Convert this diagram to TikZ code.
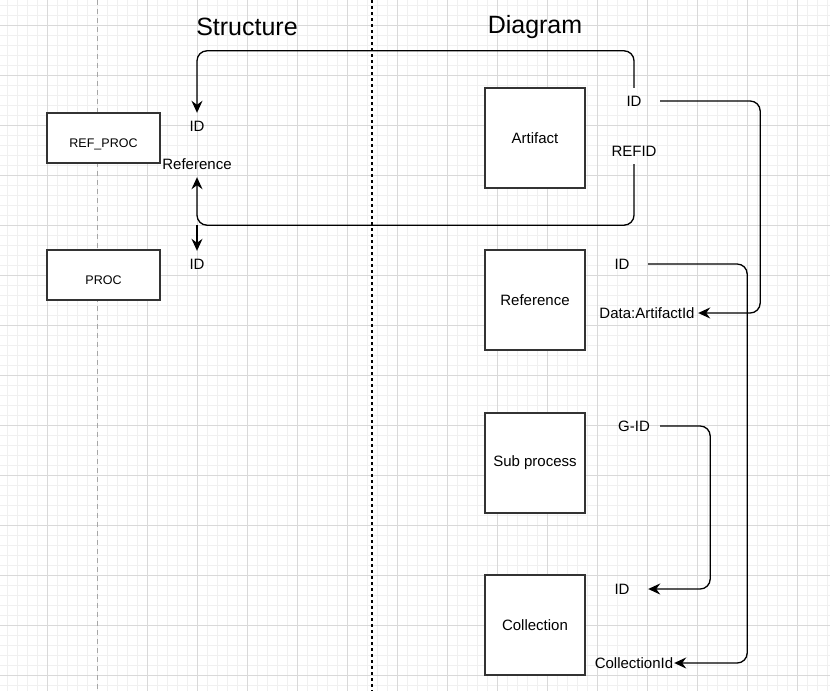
\documentclass[tikz,border=0pt]{standalone}
\usepackage{fontspec}
\setmainfont{Liberation Sans}
\usetikzlibrary{arrows.meta}
\definecolor{gridminor}{HTML}{F0F0F0}
\definecolor{gridmajor}{HTML}{D9D9D9}
\definecolor{boxline}{HTML}{333333}
\begin{document}
\begin{tikzpicture}[x=1pt,y=-1pt,
  box/.style={draw=boxline, line width=1.2pt, fill=white, minimum width=100pt, minimum height=100pt, inner sep=0pt, font=\fontsize{15}{18}\selectfont},
  smallbox/.style={box, minimum width=113pt, minimum height=50pt, font=\fontsize{12.5}{15}\selectfont, text height=19pt, text depth=0pt},
  lbl/.style={inner sep=0pt, minimum height=26pt, minimum width=52pt, font=\fontsize{15}{18}\selectfont},
  titletext/.style={inner sep=0pt, font=\fontsize{25}{30}\selectfont},
  tipstyle/.style={-{Stealth[length=12pt,width=11pt,inset=4pt]}},
  conn/.style={draw=black, line width=1.3pt, rounded corners=10pt, tipstyle},
  gminor/.style={draw=gridminor, line width=1pt},
  gmajor/.style={draw=gridmajor, line width=1pt},
]
\useasboundingbox (0,0) rectangle (830,691);
\fill[white] (0,0) rectangle (830,691);
% grid
\foreach \x in {7,17,...,827} \draw[gminor] (\x,0) -- (\x,691);
\foreach \y in {5,15,...,685} \draw[gminor] (0,\y) -- (830,\y);
\foreach \x in {47,147,197,...,797} \draw[gmajor] (\x,0) -- (\x,691);
\foreach \y in {25,75,...,675} \draw[gmajor] (0,\y) -- (830,\y);
% separators
\draw[draw=black!35, line width=1pt, dash pattern=on 5pt off 4pt] (97,0) -- (97,691);
\draw[draw=black, line width=1.3pt, dash pattern=on 3pt off 3pt] (372,0) -- (372,691);

% titles
\node[titletext] (tStruct) at (247,27) {Structure};
\node[titletext] (tDiag) at (535,27) {Diagram};

% boxes
\node[smallbox] (refproc) at (103.5,138) {REF\_PROC};
\node[smallbox] (proc) at (103.5,275) {PROC};
\node[box] (artifact) at (535,138) {Artifact};
\node[box] (reference) at (535,300) {Reference};
\node[box] (subproc) at (535,463) {Sub process};
\node[box] (collection) at (535,625) {Collection};

% labels
\node[lbl] (sID) at (197,126) {ID};
\node[lbl] (refL) at (197,164) {Reference};
\node[lbl] (pID) at (197,264) {ID};
\node[lbl] (aID) at (634,101) {ID};
\node[lbl] (refid) at (634,151) {REFID};
\node[lbl] (rID) at (622,264) {ID};
\node[lbl, minimum width=102pt] (data) at (647,313) {Data:ArtifactId};
\node[lbl] (gID) at (634,426) {G-ID};
\node[lbl] (cID) at (622,589) {ID};
\node[lbl, minimum width=80pt] (coll) at (634,663) {CollectionId};

\coordinate (split) at (197,225);

% connectors
\draw[conn] (aID.north) -- ++(0,-37) -| ([yshift=15pt]sID.north) [sharp corners] -- (sID.north);
\draw[conn] (refid.south) -- ++(0,61) -| ([yshift=-15pt]refL.south) [sharp corners] -- (refL.south);
\draw[conn, sharp corners] (split) -- (pID.north);
\draw[conn] (aID.east) -- ++(100,0) |- ([xshift=15pt]data.east) [sharp corners] -- (data.east);
\draw[conn] (rID.east) -- ++(99,0) |- ([xshift=15pt]coll.east) [sharp corners] -- (coll.east);
\draw[conn] (gID.east) -- ++(50,0) |- ([xshift=15pt]cID.east) [sharp corners] -- (cID.east);
\end{tikzpicture}
\end{document}
